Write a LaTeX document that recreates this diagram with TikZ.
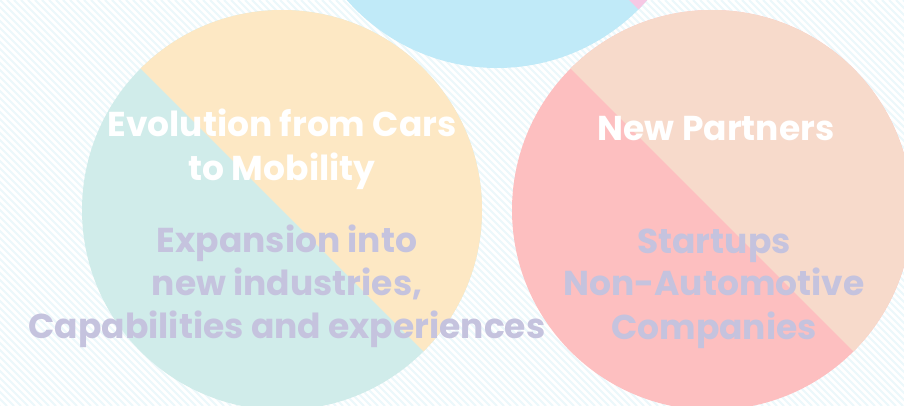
\documentclass[tikz,border=0pt]{standalone}
\usepackage{fontspec}
\setmainfont{Poppins}
\definecolor{cyanc}{RGB}{192,234,248}
\definecolor{pinkc}{RGB}{246,200,228}
\definecolor{yellowc}{RGB}{253,232,196}
\definecolor{tealc}{RGB}{208,236,234}
\definecolor{peachc}{RGB}{247,218,203}
\definecolor{rosec}{RGB}{253,191,192}
\definecolor{purplec}{RGB}{197,195,222}
\definecolor{stripec}{RGB}{236,248,251}
\tikzset{
  stripe/.style={draw=stripec, line width=2pt},
  wtext/.style={text=white, font=\bfseries\fontsize{34.5}{43}\selectfont, anchor=base, inner sep=0pt},
  ptext/.style={text=purplec, font=\bfseries\fontsize{34.5}{43}\selectfont, anchor=base, inner sep=0pt}
}
\begin{document}
\begin{tikzpicture}[x=1pt,y=-1pt]
\useasboundingbox (0,0) rectangle (904,406);
\clip (0,0) rectangle (904,406);
\fill[white] (0,0) rectangle (904,406);
\foreach \k in {-420,-413,...,910} \draw[stripe] (\k,0) -- ++(406,406);
% top circle
\fill[cyanc] (497,-132) circle[radius=200];
\begin{scope}
  \clip (497,-132) circle[radius=200];
  \fill[pinkc] (197,-432) -- (797,168) -- (797,-432) -- cycle;
\end{scope}
% left circle
\fill[tealc] (282,210) circle[radius=200];
\begin{scope}
  \clip (282,210) circle[radius=200];
  \fill[yellowc] (-18,-90) -- (582,510) -- (582,-90) -- cycle;
\end{scope}
% right circle
\fill[rosec] (712,210) circle[radius=200];
\begin{scope}
  \clip (712,210) circle[radius=200];
  \fill[peachc] (412,-90) -- (1012,510) -- (1012,-90) -- cycle;
\end{scope}
% texts
\node[wtext] (l1) at (282,137) {Evolution from Cars};
\node[wtext] (l2) at (282,180) {to Mobility};
\node[ptext] (l3) at (287,252) {Expansion into};
\node[ptext] (l4) at (287,295) {new industries,};
\node[ptext] (l5) at (287,338) {Capabilities and experiences};
\node[wtext] (r1) at (716,141) {New Partners};
\node[ptext] (r2) at (714,253) {Startups};
\node[ptext] (r3) at (714,295) {Non-Automotive};
\node[ptext] (r4) at (714,339) {Companies};
\end{tikzpicture}
\end{document}
